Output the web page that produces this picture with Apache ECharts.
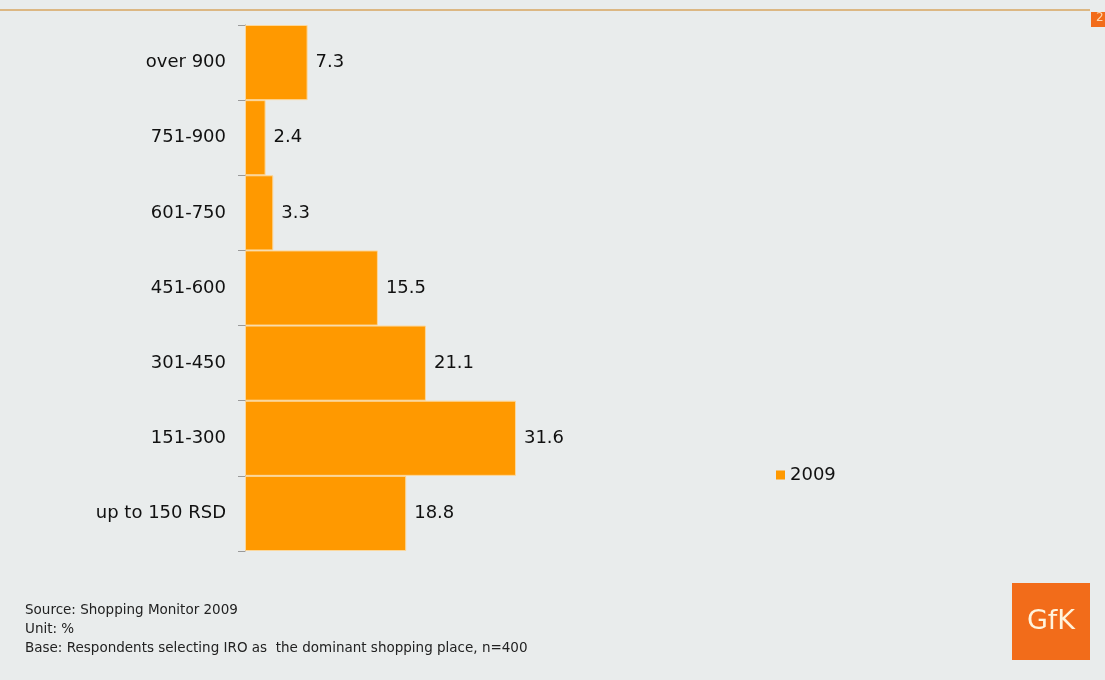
<!DOCTYPE html>
<html><head><meta charset="utf-8">
<script src="https://cdn.jsdelivr.net/npm/echarts@6/dist/echarts.min.js"></script>
<style>html,body{margin:0;padding:0;background:#e9ecec;}#c{width:1105px;height:680px;}</style>
</head><body><div id="c"></div>
<script>
const categories = ['over 900', '751-900', '601-750', '451-600', '301-450', '151-300', 'up to 150 RSD'];
const values2009 = [7.3, 2.4, 3.3, 15.5, 21.1, 31.6, 18.8];
const seriesName = '2009';
const footnotes = ['Source: Shopping Monitor 2009', 'Unit: %', 'Base: Respondents selecting IRO as  the dominant shopping place, n=400'];

const chart = echarts.init(document.getElementById('c'));
chart.setOption({
  backgroundColor: '#e9ecec',
  animation: false,
  textStyle: { fontFamily: 'DejaVu Sans' },
  grid: { left: 245, top: 25, bottom: 129, width: 343 },
  legend: {
    data: [seriesName], left: 771, top: 461, itemWidth: 9, itemHeight: 9, itemGap: 6,
    icon: 'rect', itemStyle: { borderWidth: 0 },
    textStyle: { fontSize: 18, color: '#111', fontFamily: 'DejaVu Sans' }
  },
  xAxis: { type: 'value', min: 0, max: 40, show: false },
  yAxis: {
    type: 'category', data: categories, inverse: true,
    axisLine: { show: true, lineStyle: { color: '#9a9a9a', width: 1 } },
    axisTick: { show: true, length: 7, lineStyle: { color: '#9a9a9a' } },
    axisLabel: { fontSize: 18, color: '#111', margin: 19, fontFamily: 'DejaVu Sans' }
  },
  series: [{
    name: seriesName, type: 'bar', data: values2009, barCategoryGap: 0,
    itemStyle: { color: '#ff9900', borderColor: '#fcd79a', borderWidth: 1 },
    label: { show: true, position: 'right', distance: 8, fontSize: 18, color: '#111', fontFamily: 'DejaVu Sans' }
  }],
  graphic: [
    { type: 'rect', shape: { x: 0, y: 9, width: 1090, height: 2 }, style: { fill: '#dcb783' } },
    { type: 'rect', shape: { x: 1091, y: 12, width: 14, height: 15 }, style: { fill: '#f26c1a' } },
    { type: 'text', left: 1096, top: 12, style: { text: '2', fill: '#ffd9b0', fontSize: 12, fontFamily: 'DejaVu Sans' } },
    { type: 'text', left: 25, top: 601, style: { text: footnotes.join('\n'), fill: '#222', fontSize: 13.5, lineHeight: 19, fontFamily: 'DejaVu Sans' } },
    { type: 'rect', shape: { x: 1012, y: 583, width: 78, height: 77 }, style: { fill: '#f26c1a' } },
    { type: 'text', x: 1051, y: 622, style: { text: 'GfK', fill: '#fff3dc', fontSize: 27, align: 'center', verticalAlign: 'middle', fontFamily: 'DejaVu Sans' } }
  ]
});
</script></body></html>
